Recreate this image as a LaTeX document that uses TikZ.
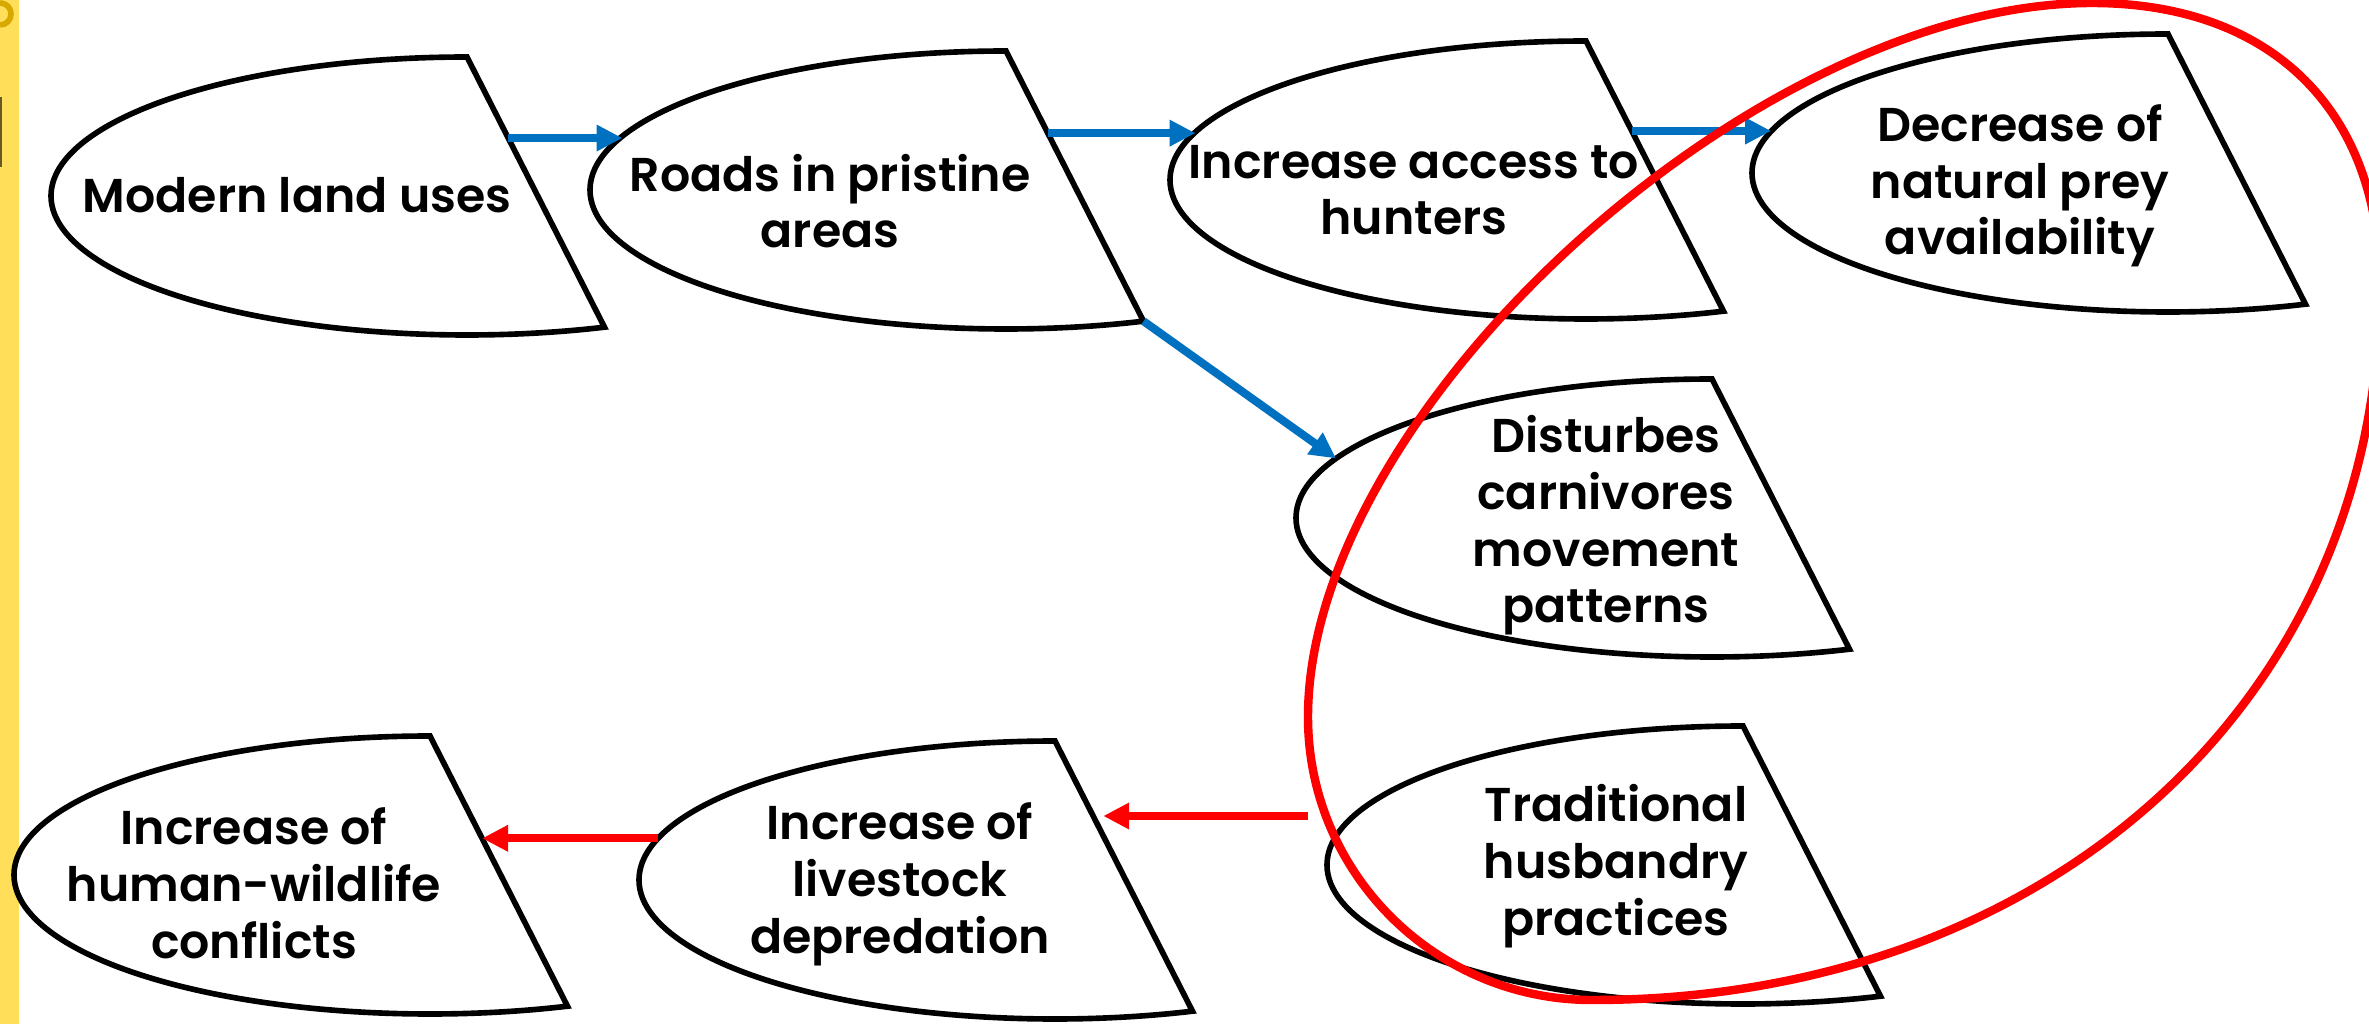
\documentclass[tikz,border=0pt]{standalone}
\usepackage{fontspec}
\setmainfont{Poppins}[BoldFont={Poppins SemiBold}]
\usetikzlibrary{arrows.meta,calc,shapes.geometric}
\definecolor{flowblue}{HTML}{0070C0}
\definecolor{loopred}{HTML}{FF0000}
\definecolor{sidebar}{RGB}{255,222,89}
\definecolor{curlgold}{RGB}{214,168,0}

\begin{document}
\begin{tikzpicture}
    [
        zone/.style={ellipse, minimum width=8.32cm, minimum height=2.78cm, inner sep=0pt, outer sep=0pt},
        outline/.style={draw=black, fill=white, line width=1.6pt, line join=miter},
        label/.style={font=\bfseries\fontsize{13.5}{16.2}\selectfont, align=center, anchor=base},
        flow/.style={-{Triangle[length=0.26cm, width=0.25cm]}, flowblue, line width=2.3pt},
        harm/.style={-{Triangle[length=0.26cm, width=0.25cm]}, loopred, line width=2.3pt},
    ]
    \useasboundingbox (0,0) rectangle (23.69,10.24);

    % side strip
    \fill[sidebar] (0,0) rectangle (0.19,10.24);
    \draw[curlgold, line width=1.6pt] (0.0,9.99) arc[start angle=-90, end angle=100, radius=0.11];
    \draw[black!60!sidebar, line width=0.8pt] (0.01,9.27) -- (0.01,8.57);

    % zones
    \node[zone] (land) at (4.67, 8.28) {};
    \node[zone] (roads) at (10.06, 8.34) {};
    \node[zone] (access) at (15.86, 8.44) {};
    \node[zone] (prey) at (21.68, 8.51) {};
    \node[zone] (disturb) at (17.12, 5.06) {};
    \node[zone] (husbandry) at (17.43, 1.59) {};
    \node[zone] (livestock) at (10.55, 1.44) {};
    \node[zone] (conflict) at (4.30, 1.49) {};

    \draw[outline] (land.north) arc[start angle=90, end angle=289.3, x radius=4.16cm, y radius=1.39cm] coordinate (land-tip) -- cycle;
    \draw[outline] (roads.north) arc[start angle=90, end angle=289.3, x radius=4.16cm, y radius=1.39cm] coordinate (roads-tip) -- cycle;
    \draw[outline] (access.north) arc[start angle=90, end angle=289.3, x radius=4.16cm, y radius=1.39cm] coordinate (access-tip) -- cycle;
    \draw[outline] (prey.north) arc[start angle=90, end angle=289.3, x radius=4.16cm, y radius=1.39cm] coordinate (prey-tip) -- cycle;
    \draw[outline] (disturb.north) arc[start angle=90, end angle=289.3, x radius=4.16cm, y radius=1.39cm] coordinate (disturb-tip) -- cycle;
    \draw[outline] (husbandry.north) arc[start angle=90, end angle=289.3, x radius=4.16cm, y radius=1.39cm] coordinate (husbandry-tip) -- cycle;
    \draw[outline] (livestock.north) arc[start angle=90, end angle=289.3, x radius=4.16cm, y radius=1.39cm] coordinate (livestock-tip) -- cycle;
    \draw[outline] (conflict.north) arc[start angle=90, end angle=289.3, x radius=4.16cm, y radius=1.39cm] coordinate (conflict-tip) -- cycle;

    % texts (base = last line)
    \node[label] (land-text) at (2.97, 8.11) {Modern land uses};
    \node[label] (roads-text) at (8.30, 7.76) {Roads in pristine\\areas};
    \node[label] (access-text) at (14.14, 7.89) {Increase access to\\hunters};
    \node[label] (prey-text) at (20.20, 7.69) {Decrease of\\natural prey\\availability};
    \node[label] (disturb-text) at (16.06, 4.01) {Disturbes\\carnivores\\movement\\patterns};
    \node[label] (husbandry-text) at (16.16, 0.89) {Traditional\\husbandry\\practices};
    \node[label] (livestock-text) at (9.00, 0.71) {Increase of\\livestock\\depredation};
    \node[label] (conflict-text) at (2.54, 0.66) {Increase of\\human-wildlife\\conflicts};

    % connectors
    \coordinate (land-out) at ($(land.north)!0.3!(land-tip)$);
    \coordinate (roads-out) at ($(roads.north)!0.304!(roads-tip)$);
    \coordinate (access-out) at ($(access.north)!0.333!(access-tip)$);
    \coordinate (husbandry-out) at ([shift={(-0.19,0.49)}]husbandry.west);
    \coordinate (livestock-in) at ($(livestock.north)!0.278!(livestock-tip)$);
    \coordinate (conflict-in) at ($(conflict.north)!0.379!(conflict-tip)$);

    \draw[flow] (land-out) -- (land-out -| roads.172);
    \draw[flow] (roads-out) -- (roads-out -| access.173);
    \draw[flow] (access-out) -- (access-out -| prey.174);
    \draw[flow] (roads-tip) -- (disturb.171);
    \draw[harm, shorten >=1mm] (husbandry-out) -- (husbandry-out -| livestock-in);
    \draw[harm] (livestock.174) -- (livestock.174 -| conflict-in);

    % highlighted group
    \draw[loopred, line width=2.4pt] (20.92,10.21)
        .. controls (22.71,10.21) and (23.80,9.14) .. (23.80,7.39)
        .. controls (23.80,3.24) and (20.49,0.24) .. (15.92,0.24)
        .. controls (14.35,0.24) and (13.08,1.51) .. (13.08,3.07)
        .. controls (13.08,6.14) and (17.55,10.21) .. (20.92,10.21) -- cycle;
\end{tikzpicture}
\end{document}
